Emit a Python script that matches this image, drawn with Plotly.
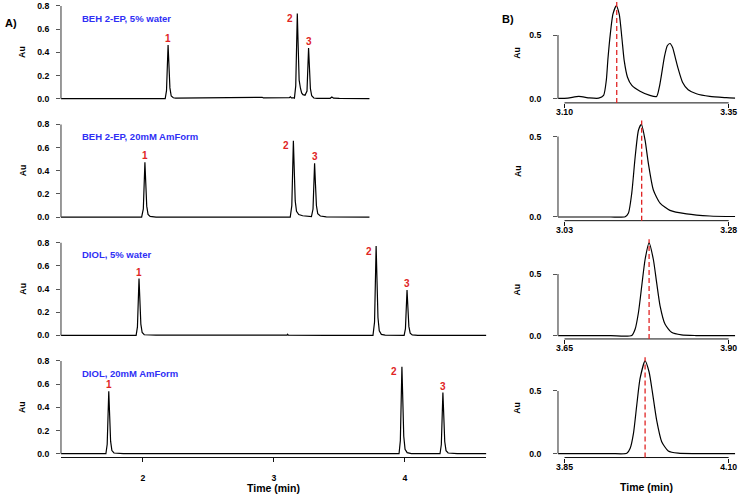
import plotly.graph_objects as go

# ---------------- data ----------------
# Panel A: full chromatograms (time in min, absorbance in Au)
a1_t = [1.374, 2.170, 2.180, 2.186, 2.192, 2.199, 2.206, 2.216, 2.232, 2.25, 2.40, 2.60, 2.75, 2.90, 2.911,
        2.920, 3.00, 3.10, 3.118, 3.126, 3.134, 3.150, 3.157, 3.167, 3.173, 3.179, 3.186, 3.193, 3.203,
        3.212, 3.222, 3.238, 3.253, 3.259, 3.265, 3.272, 3.279, 3.289, 3.305, 3.330, 3.430, 3.443, 3.456,
        3.500, 3.730]
a1_v = [0.000, 0.000, 0.069, 0.278, 0.463, 0.278, 0.093, 0.023, 0.008, 0.004, 0.006, 0.008, 0.009, 0.007, 0.012,
        0.006, 0.006, 0.006, 0.008, 0.016, 0.007, 0.008, 0.005, 0.110, 0.440, 0.734, 0.440, 0.160, 0.090,
        0.050, 0.035, 0.030, 0.066, 0.262, 0.437, 0.262, 0.087, 0.025, 0.006, 0.003, 0.003, 0.014, 0.004,
        0.002, 0.001]

a2_t = [1.374, 1.990, 2.003, 2.009, 2.015, 2.022, 2.029, 2.039, 2.055, 2.100, 2.600, 2.820, 2.828, 2.836,
        3.125, 3.137, 3.143, 3.149, 3.156, 3.163, 3.173, 3.190, 3.220, 3.280, 3.287, 3.299, 3.305, 3.311,
        3.318, 3.325, 3.335, 3.355, 3.400, 3.640, 3.645, 3.650, 3.730]
a2_v = [0.000, 0.000, 0.071, 0.284, 0.473, 0.284, 0.095, 0.024, 0.006, 0.001, 0.001, 0.002, 0.006, 0.002,
        0.001, 0.099, 0.395, 0.658, 0.395, 0.140, 0.050, 0.022, 0.012, 0.006, 0.005, 0.070, 0.278, 0.464,
        0.278, 0.100, 0.030, 0.010, 0.003, 0.002, 0.006, 0.002, 0.001]

a3_t = [1.374, 1.948, 1.958, 1.964, 1.970, 1.977, 1.984, 1.994, 2.010, 2.100, 2.300, 2.500, 2.700, 2.900,
        3.100, 3.105, 3.110, 3.400, 3.757, 3.769, 3.775, 3.781, 3.788, 3.795, 3.805, 3.821, 3.850, 3.995,
        4.005, 4.011, 4.017, 4.024, 4.031, 4.041, 4.057, 4.100, 4.623]
a3_v = [0.000, 0.000, 0.074, 0.294, 0.490, 0.294, 0.098, 0.025, 0.006, 0.003, 0.004, 0.006, 0.005, 0.004,
        0.003, 0.010, 0.002, 0.001, 0.000, 0.116, 0.463, 0.771, 0.463, 0.154, 0.039, 0.009, 0.002, 0.000,
        0.059, 0.235, 0.392, 0.235, 0.078, 0.020, 0.005, 0.001, 0.000]

a4_t = [1.374, 1.717, 1.727, 1.733, 1.739, 1.746, 1.753, 1.763, 1.779, 1.850, 3.956, 3.966, 3.972, 3.978,
        3.985, 3.992, 4.002, 4.018, 4.050, 4.269, 4.279, 4.285, 4.291, 4.298, 4.305, 4.315, 4.331, 4.400,
        4.623]
a4_v = [0.000, 0.000, 0.081, 0.323, 0.538, 0.323, 0.108, 0.027, 0.006, 0.001, 0.000, 0.113, 0.450, 0.750,
        0.450, 0.150, 0.038, 0.009, 0.001, 0.000, 0.079, 0.316, 0.527, 0.316, 0.105, 0.026, 0.006, 0.001,
        0.000]

a_titles = ["BEH 2-EP, 5% water", "BEH 2-EP, 20mM AmForm", "DIOL, 5% water", "DIOL, 20mM AmForm"]
peak_names = ["1", "2", "3"]
peak_t = [[2.192, 3.179, 3.265], [2.015, 3.149, 3.311], [1.970, 3.781, 4.017], [1.739, 3.978, 4.291]]
peak_h = [[0.463, 0.734, 0.437], [0.473, 0.658, 0.464], [0.490, 0.771, 0.392], [0.538, 0.750, 0.527]]
a_xticks = [2, 3, 4]
a_yticks = [0.0, 0.2, 0.4, 0.6, 0.8]

# Panel B: zoom on one peak per condition
b1_t = [3.090, 3.105, 3.1217, 3.138, 3.152, 3.1595, 3.1636, 3.1661, 3.1697, 3.1737, 3.1788, 3.1833, 3.1873,
        3.1909, 3.1959, 3.2025, 3.215, 3.230, 3.2403, 3.2444, 3.2479, 3.2520, 3.2565, 3.2606, 3.2646,
        3.2686, 3.2732, 3.2797, 3.2883, 3.3009, 3.3212, 3.3464, 3.360]
b1_v = [0.002, 0.004, 0.018, 0.006, 0.004, 0.026, 0.143, 0.312, 0.508, 0.664, 0.729, 0.664, 0.481,
        0.299, 0.169, 0.104, 0.059, 0.026, 0.018, 0.091, 0.195, 0.325, 0.416, 0.434, 0.403,
        0.325, 0.234, 0.130, 0.070, 0.039, 0.018, 0.008, 0.004]

b2_t = [3.020, 3.100, 3.1224, 3.1274, 3.1324, 3.1376, 3.1426, 3.1471, 3.1527, 3.1577, 3.1653, 3.1755,
        3.1906, 3.2158, 3.2512, 3.290]
b2_v = [0.000, 0.000, 0.002, 0.025, 0.148, 0.374, 0.539, 0.576, 0.477, 0.333, 0.168, 0.086,
        0.041, 0.019, 0.006, 0.003]

b3_t = [3.640, 3.720, 3.7524, 3.7576, 3.7626, 3.7676, 3.7727, 3.7788, 3.7853, 3.7903, 3.7955, 3.8030,
        3.8130, 3.8282, 3.850, 3.910]
b3_v = [0.000, 0.000, 0.002, 0.054, 0.188, 0.403, 0.618, 0.753, 0.618, 0.430, 0.242, 0.094,
        0.027, 0.006, 0.001, 0.000]

b4_t = [3.840, 3.920, 3.9449, 3.9500, 3.9550, 3.9600, 3.9650, 3.9727, 3.9788, 3.9838, 3.9903, 3.9980,
        4.0080, 4.0232, 4.050, 4.110]
b4_v = [0.000, 0.000, 0.002, 0.042, 0.161, 0.386, 0.598, 0.740, 0.651, 0.492, 0.267, 0.095,
        0.021, 0.003, 0.000, 0.000]

b_apex = [3.1795, 3.1475, 3.7788, 3.9727]
b_xticks = [[3.10, 3.35], [3.03, 3.28], [3.65, 3.90], [3.85, 4.10]]
b_yticks = [0.0, 0.5]

# ---------------- layout geometry (pixels) ----------------
W, H = 740, 496
FONT = "Liberation Sans, Arial, Helvetica, sans-serif"
BLUE = "#2f2ff5"
RED = "#e02424"


def py(p):
    return 1 - p / H


def px(p):
    return p / W


def names(k):
    s = "" if k == 1 else str(k)
    return "x" + s, "y" + s, "xaxis" + s, "yaxis" + s


a_xdom = [px(59.3), px(487.0)]
a_xrange = [1.374, 4.623]
a_rows = [(1.2, 102.0), (120.4, 221.2), (239.4, 340.2), (358.4, 459.2)]
a_yrange = [-0.032, 0.832]

b_xdom = [px(559.0), px(737.2)]
b_xranges = [[3.09, 3.36], [3.02, 3.29], [3.64, 3.91], [3.84, 4.11]]
b_rows = [(0.5, 102.5), (120.3, 221.0), (239.6, 340.0), (358.3, 459.3)]
b_yranges = [[-0.0328, 0.764], [-0.0228, 0.5988], [-0.0266, 0.7831], [-0.0317, 0.7698]]

fig = go.Figure()
layout = dict(width=W, height=H, autosize=False, margin=dict(l=0, r=0, t=0, b=0),
              paper_bgcolor="white", plot_bgcolor="white", showlegend=False,
              font=dict(family=FONT, size=9, color="black"))
shapes, annotations = [], []

tickfont = dict(family=FONT, size=8.7, color="black", weight="bold")

a_series = [(a1_t, a1_v), (a2_t, a2_v), (a3_t, a3_v), (a4_t, a4_v)]
for i, (t, v) in enumerate(a_series):
    xa, ya, xk, yk = names(i + 1)
    fig.add_trace(go.Scatter(x=t, y=v, xaxis=xa, yaxis=ya, mode="lines",
                             line=dict(color="black", width=1.2), hoverinfo="skip"))
    last = (i == 3)
    layout[xk] = dict(domain=a_xdom, range=a_xrange, anchor=ya, showgrid=False, zeroline=False,
                      showline=last, linecolor="#111", linewidth=1,
                      tickmode="array", tickvals=a_xticks, ticktext=[str(x) for x in a_xticks],
                      ticks="outside" if last else "", ticklen=4, tickcolor="#111",
                      showticklabels=last, tickfont=tickfont, ticklabelstandoff=8)
    layout[yk] = dict(domain=[py(a_rows[i][1]), py(a_rows[i][0])], range=a_yrange, anchor=xa,
                      showgrid=False, zeroline=False, showline=False,
                      tickmode="array", tickvals=a_yticks, ticktext=[f"{y:.1f}" for y in a_yticks],
                      ticks="outside", ticklen=4, tickcolor="#555", tickfont=tickfont,
                      ticklabelstandoff=5)
    shapes.append(dict(type="line", xref=f"{xa} domain", yref=ya, x0=0, x1=0,
                       y0=a_yticks[0], y1=a_yticks[-1], line=dict(color="#555", width=1.2)))
    annotations.append(dict(text=a_titles[i], xref=f"{xa} domain", yref=f"{ya} domain",
                            x=0.044, y=0.84, xanchor="left", yanchor="middle", showarrow=False,
                            font=dict(family=FONT, size=9.5, color=BLUE, weight="bold")))
    annotations.append(dict(text="Au", xref="paper", yref=f"{ya} domain", x=px(20.7), y=0.5,
                            textangle=-90, showarrow=False, xanchor="center", yanchor="middle",
                            font=dict(family=FONT, size=8.7, color="black", weight="bold")))
    for j, name in enumerate(peak_names):
        if j == 1:
            xs, ys = -7.5, -5
        else:
            xs, ys = 0, 6.5
        annotations.append(dict(text=name, xref=xa, yref=ya, x=peak_t[i][j], y=peak_h[i][j],
                                xshift=xs, yshift=ys, showarrow=False, xanchor="center", yanchor="middle",
                                font=dict(family=FONT, size=10, color=RED, weight="bold")))

b_series = [(b1_t, b1_v), (b2_t, b2_v), (b3_t, b3_v), (b4_t, b4_v)]
for i, (t, v) in enumerate(b_series):
    xa, ya, xk, yk = names(i + 5)
    fig.add_trace(go.Scatter(x=t, y=v, xaxis=xa, yaxis=ya, mode="lines",
                             line=dict(color="black", width=1.2, shape="spline", smoothing=0.6),
                             hoverinfo="skip"))
    layout[xk] = dict(domain=b_xdom, range=b_xranges[i], anchor=ya, showgrid=False, zeroline=False,
                      showline=False, tickmode="array", tickvals=b_xticks[i],
                      ticktext=[f"{x:.2f}" for x in b_xticks[i]], ticks="outside", ticklen=4,
                      tickcolor="#111", tickfont=tickfont, ticklabelstandoff=-3)
    layout[yk] = dict(domain=[py(b_rows[i][1]), py(b_rows[i][0])], range=b_yranges[i], anchor=xa,
                      showgrid=False, zeroline=False, showline=False,
                      tickmode="array", tickvals=b_yticks, ticktext=[f"{y:.1f}" for y in b_yticks],
                      ticks="outside", ticklen=4, tickcolor="#555", tickfont=tickfont,
                      ticklabelstandoff=10)
    shapes.append(dict(type="line", xref=f"{xa} domain", yref=ya, x0=0, x1=0,
                       y0=b_yticks[0], y1=b_yticks[-1], line=dict(color="#666", width=1.4)))
    shapes.append(dict(type="line", xref=xa, yref=f"{ya} domain", x0=b_xticks[i][0], x1=b_xticks[i][-1],
                       y0=0, y1=0, line=dict(color="#111", width=1)))
    shapes.append(dict(type="line", xref=xa, yref=f"{ya} domain", x0=b_apex[i], x1=b_apex[i],
                       y0=0, y1=1, line=dict(color=RED, width=1.3, dash="5px,3px")))
    annotations.append(dict(text="Au", xref="paper", yref=f"{ya} domain", x=px(518.3), y=0.5,
                            textangle=-90, showarrow=False, xanchor="center", yanchor="middle",
                            font=dict(family=FONT, size=8.7, color="black", weight="bold")))

annotations.append(dict(text="Time (min)", xref="paper", yref="paper", x=px(273.3), y=py(489.5),
                        showarrow=False, xanchor="center", yanchor="middle",
                        font=dict(family=FONT, size=10.5, color="black", weight="bold")))
annotations.append(dict(text="Time (min)", xref="paper", yref="paper", x=px(648.1), y=py(488.5),
                        showarrow=False, xanchor="center", yanchor="middle",
                        font=dict(family=FONT, size=10.5, color="black", weight="bold")))
annotations.append(dict(text="A)", xref="paper", yref="paper", x=px(1.5), y=py(21.7),
                        showarrow=False, xanchor="left", yanchor="middle",
                        font=dict(family=FONT, size=11, color="black", weight="bold")))
annotations.append(dict(text="B)", xref="paper", yref="paper", x=px(500.5), y=py(18.3),
                        showarrow=False, xanchor="left", yanchor="middle",
                        font=dict(family=FONT, size=11, color="black", weight="bold")))

layout["shapes"] = shapes
layout["annotations"] = annotations
fig.update_layout(**layout)
fig.write_html("out.html", config={"displayModeBar": False},
               post_script="document.body.style.margin='0';document.body.style.overflow='hidden';")
